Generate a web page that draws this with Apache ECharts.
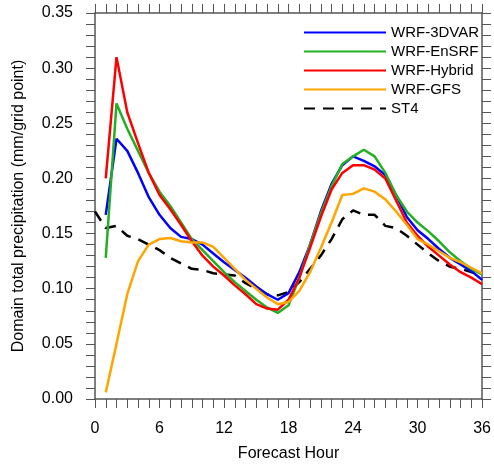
<!DOCTYPE html>
<html>
<head>
<meta charset="utf-8">
<script src="https://cdn.jsdelivr.net/npm/echarts@6/dist/echarts.min.js"></script>
<style>
  html, body { margin: 0; padding: 0; background: #fff; }
  #chart { width: 494px; height: 467px; }
</style>
</head>
<body>
<div id="chart"></div>
<script>
// forecast hours 1..36 for the WRF runs, 0..36 for ST4
const hours = [1, 2, 3, 4, 5, 6, 7, 8, 9, 10, 11, 12, 13, 14, 15, 16, 17, 18,
  19, 20, 21, 22, 23, 24, 25, 26, 27, 28, 29, 30, 31, 32, 33, 34, 35, 36];
const st4Hours = [0].concat(hours);

const wrf3dvar = [0.167, 0.236, 0.225, 0.205, 0.183, 0.167, 0.155, 0.147, 0.145, 0.140,
  0.132, 0.124, 0.117, 0.110, 0.102, 0.095, 0.090, 0.096, 0.115, 0.140,
  0.170, 0.195, 0.212, 0.220, 0.216, 0.211, 0.203, 0.185, 0.165, 0.153,
  0.145, 0.136, 0.128, 0.122, 0.116, 0.108];
const wrfEnsrf = [0.128, 0.268, 0.245, 0.225, 0.205, 0.188, 0.175, 0.160, 0.145, 0.135,
  0.125, 0.115, 0.106, 0.098, 0.090, 0.083, 0.078, 0.085, 0.110, 0.140,
  0.168, 0.193, 0.213, 0.220, 0.226, 0.220, 0.205, 0.185, 0.170, 0.160,
  0.152, 0.143, 0.133, 0.125, 0.118, 0.113];
const wrfHybrid = [0.200, 0.310, 0.260, 0.232, 0.205, 0.185, 0.172, 0.158, 0.143, 0.130,
  0.120, 0.112, 0.103, 0.095, 0.086, 0.082, 0.081, 0.090, 0.110, 0.137,
  0.165, 0.190, 0.205, 0.212, 0.212, 0.208, 0.200, 0.180, 0.160, 0.148,
  0.138, 0.130, 0.122, 0.115, 0.110, 0.104];
const wrfGfs = [0.006, 0.050, 0.095, 0.125, 0.140, 0.145, 0.146, 0.143, 0.142, 0.142,
  0.138, 0.128, 0.118, 0.108, 0.100, 0.092, 0.086, 0.088, 0.098, 0.115,
  0.137, 0.160, 0.185, 0.186, 0.191, 0.188, 0.181, 0.170, 0.158, 0.145,
  0.140, 0.134, 0.128, 0.124, 0.119, 0.114];
const st4 = [0.170, 0.155, 0.157, 0.148, 0.145, 0.140, 0.135, 0.128, 0.123, 0.118,
  0.117, 0.114, 0.113, 0.112, 0.105, 0.100, 0.095, 0.094, 0.097, 0.106,
  0.118, 0.130, 0.145, 0.163, 0.171, 0.167, 0.167, 0.157, 0.155, 0.148,
  0.140, 0.132, 0.125, 0.120, 0.118, 0.115, 0.113];

const seriesNames = ['WRF-3DVAR', 'WRF-EnSRF', 'WRF-Hybrid', 'WRF-GFS', 'ST4'];
const seriesColors = ['#0000ff', '#22b022', '#ff0000', '#ffa500', '#000000'];

const font = 'Liberation Sans, Arial, Helvetica, sans-serif';

function pairs(xs, ys) {
  return xs.map((x, i) => [x, ys[i]]);
}

function line(name, color, data, dashed) {
  return {
    name: name,
    type: 'line',
    data: data,
    symbol: 'none',
    smooth: false,
    lineStyle: { color: color, width: 2.5, type: dashed ? [11, 8] : 'solid' },
    itemStyle: { color: color },
    z: dashed ? 1 : 2,
  };
}

const tickStyle = { color: '#555', width: 1 };
const xBase = {
  type: 'value',
  min: 0,
  max: 36,
  interval: 6,
  axisLine: { show: true, onZero: false, lineStyle: { color: '#555', width: 1.5 } },
  axisTick: { show: true, inside: false, length: 9, lineStyle: tickStyle },
  minorTick: { show: true, splitNumber: 6, length: 9, lineStyle: tickStyle },
  splitLine: { show: false },
};
const yBase = {
  type: 'value',
  min: 0,
  max: 0.35,
  interval: 0.05,
  axisLine: { show: true, onZero: false, lineStyle: { color: '#555', width: 1.5 } },
  axisTick: { show: true, inside: false, length: 9, lineStyle: tickStyle },
  minorTick: { show: true, splitNumber: 5, length: 9, lineStyle: tickStyle },
  splitLine: { show: false },
};

const option = {
  backgroundColor: '#ffffff',
  animation: false,
  textStyle: { fontFamily: font },
  grid: { left: 95, right: 9, top: 13, bottom: 64, containLabel: false },
  legend: {
    orient: 'vertical',
    left: 298,
    top: 20,
    itemWidth: 82,
    itemHeight: 14,
    itemGap: 4,
    itemStyle: { opacity: 0 },
    data: seriesNames,
    textStyle: { fontSize: 15, color: '#000', fontFamily: font },
  },
  xAxis: [
    Object.assign({}, xBase, {
      position: 'bottom',
      name: 'Forecast Hour',
      nameLocation: 'middle',
      nameGap: 47,
      nameTextStyle: { fontSize: 16, color: '#000' },
      axisLabel: { fontSize: 16, color: '#000', margin: 22 },
    }),
    Object.assign({}, xBase, {
      position: 'top',
      axisLabel: { show: false },
    }),
  ],
  yAxis: [
    Object.assign({}, yBase, {
      position: 'left',
      name: 'Domain total precipitation (mm/grid point)',
      nameLocation: 'middle',
      nameGap: 68,
      nameTextStyle: { fontSize: 16, color: '#000' },
      axisLabel: {
        fontSize: 16,
        color: '#000',
        margin: 22,
        formatter: (v) => v.toFixed(2),
      },
    }),
    Object.assign({}, yBase, {
      position: 'right',
      axisLabel: { show: false },
    }),
  ],
  series: [
    line(seriesNames[0], seriesColors[0], pairs(hours, wrf3dvar)),
    line(seriesNames[1], seriesColors[1], pairs(hours, wrfEnsrf)),
    line(seriesNames[2], seriesColors[2], pairs(hours, wrfHybrid)),
    line(seriesNames[3], seriesColors[3], pairs(hours, wrfGfs)),
    line(seriesNames[4], seriesColors[4], pairs(st4Hours, st4), true),
  ],
};

const chart = echarts.init(document.getElementById('chart'), null, { renderer: 'canvas' });
chart.setOption(option);
</script>
</body>
</html>
